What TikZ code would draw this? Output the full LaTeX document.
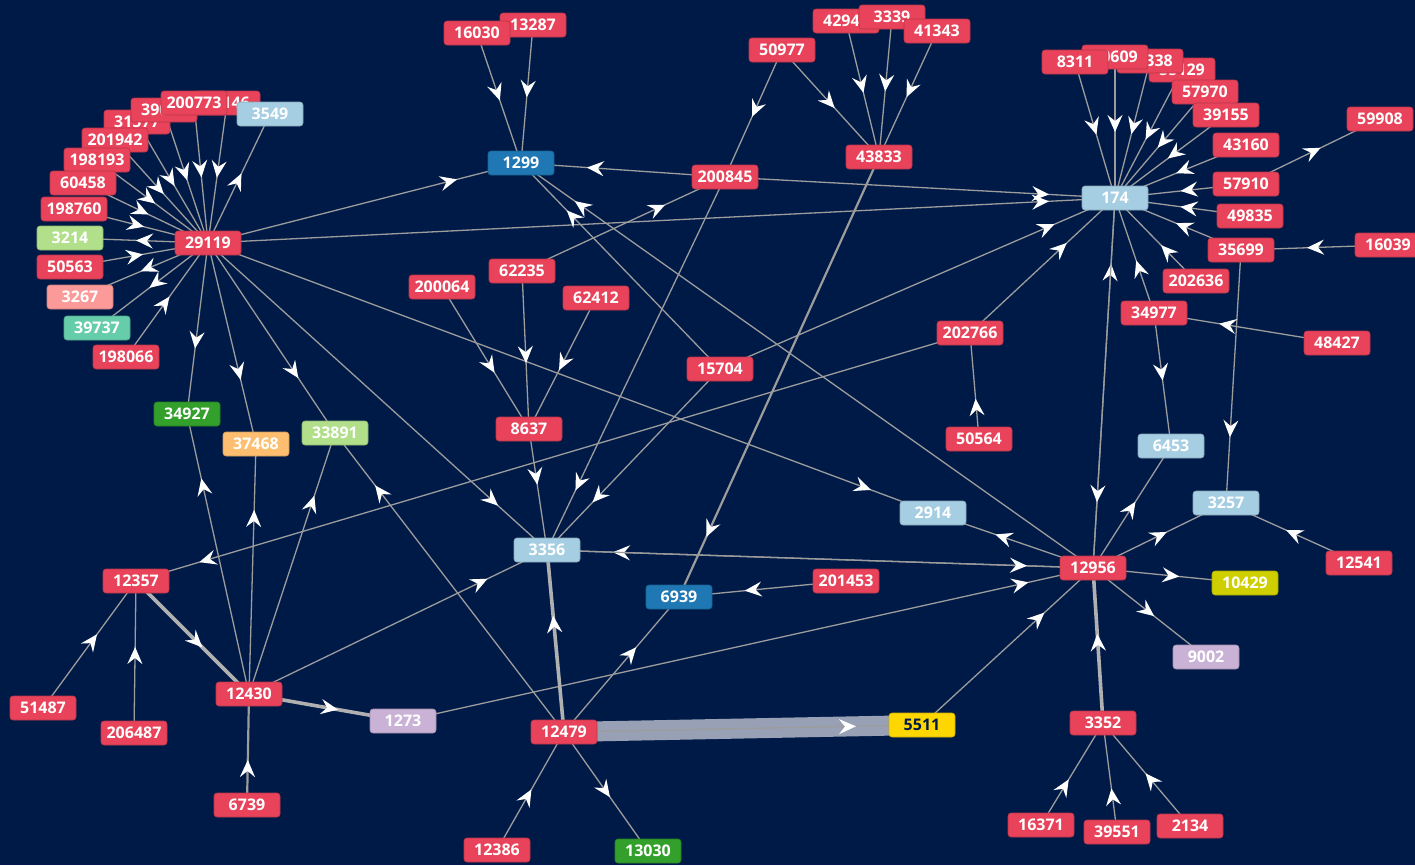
\documentclass[tikz,border=0pt]{standalone}
\usepackage{fontspec}
\setmainfont{Open Sans}
\usetikzlibrary{arrows.meta,decorations.markings}
\definecolor{bgnavy}{HTML}{001A47}
\definecolor{nred}{HTML}{E8435A}
\definecolor{nlblue}{HTML}{A6CEE3}
\definecolor{ndblue}{HTML}{1F78B4}
\definecolor{nlgreen}{HTML}{B2DF8A}
\definecolor{ngreen}{HTML}{33A02C}
\definecolor{npink}{HTML}{FB9A99}
\definecolor{norange}{HTML}{FDBF6F}
\definecolor{nlilac}{HTML}{CAB2D6}
\definecolor{nyellow}{HTML}{FFD700}
\definecolor{nolive}{HTML}{CFCF00}
\definecolor{nteal}{HTML}{66CDAA}
\definecolor{egrey}{HTML}{9C9C9C}
\definecolor{eband}{HTML}{97A0B4}
\pgfdeclarelayer{bg}
\pgfdeclarelayer{edges}
\pgfsetlayers{bg,edges,main}
\tikzset{
  nbox/.style={rectangle, rounded corners=3pt, minimum width=66pt, minimum height=24pt,
    inner sep=0pt, text=white, font=\fontsize{16}{18}\selectfont\bfseries,
    fill=#1, draw=#1!80!black, line width=0.6pt},
  nbox/.default=nred,
  link/.style={draw=egrey, line width=1.3pt,
    decoration={markings, mark=at position -66pt with {\arrow[white]{>}}},
    postaction=decorate},
  heavy/.style={draw=egrey!80!white, line width=3.6pt},
  medium/.style={line width=2.2pt},
}
\begin{document}
\begin{tikzpicture}[x=1pt, y=-1pt, >={Stealth[length=17pt,width=15pt,inset=6pt]}]
\useasboundingbox (0,0) rectangle (1415,865);
\begin{pgfonlayer}{bg}
\fill[bgnavy] (0,0) rectangle (1415,865);
\end{pgfonlayer}
% left fan
\node[nbox] (n25146) at (227,103) {25146};
\node[nbox] (n31577) at (137,122) {31577};
\node[nbox] (n39064) at (164,110) {39064};
\node[nbox] (n200773) at (194,103) {200773};
\node[nbox] (n201942) at (115,140) {201942};
\node[nbox] (n198193) at (97,160) {198193};
\node[nbox] (n60458) at (83,183) {60458};
\node[nbox] (n198760) at (74,209) {198760};
\node[nbox=nlgreen] (n3214) at (70,238) {3214};
\node[nbox] (n50563) at (70,267) {50563};
\node[nbox=npink] (n3267) at (80,297) {3267};
\node[nbox=nteal] (n39737) at (97,328) {39737};
\node[nbox] (n198066) at (126,357) {198066};
\node[nbox=nlblue] (n3549) at (270,114) {3549};
\node[nbox] (n29119) at (208,243) {29119};
% top middle
\node[nbox] (n13287) at (533,25) {13287};
\node[nbox] (n16030) at (477,33) {16030};
\node[nbox=ndblue] (n1299) at (521,163) {1299};
\node[nbox] (n50977) at (782,50) {50977};
\node[nbox] (n42945) at (846,21) {42945};
\node[nbox] (n3339) at (892,17) {3339};
\node[nbox] (n41343) at (937,31) {41343};
\node[nbox] (n43833) at (879,157) {43833};
\node[nbox] (n200845) at (725,177) {200845};
\node[nbox] (n62235) at (522,271) {62235};
\node[nbox] (n200064) at (442,287) {200064};
\node[nbox] (n62412) at (596,298) {62412};
\node[nbox] (n15704) at (720,369) {15704};
\node[nbox] (n8637) at (529,429) {8637};
% right fan
\node[nbox] (n55129) at (1182,70) {55129};
\node[nbox] (n25338) at (1150,61) {25338};
\node[nbox] (n10609) at (1115,57) {10609};
\node[nbox] (n8311) at (1075,62) {8311};
\node[nbox] (n57970) at (1205,92) {57970};
\node[nbox] (n39155) at (1226,115) {39155};
\node[nbox] (n43160) at (1246,145) {43160};
\node[nbox] (n57910) at (1246,184) {57910};
\node[nbox] (n49835) at (1250,216) {49835};
\node[nbox] (n35699) at (1241,250) {35699};
\node[nbox] (n16039) at (1388,245) {16039};
\node[nbox] (n59908) at (1380,119) {59908};
\node[nbox] (n202636) at (1196,281) {202636};
\node[nbox=nlblue] (n174) at (1115,198) {174};
% right middle
\node[nbox] (n202766) at (970,333) {202766};
\node[nbox] (n50564) at (979,439) {50564};
\node[nbox] (n34977) at (1154,313) {34977};
\node[nbox] (n48427) at (1337,343) {48427};
\node[nbox=nlblue] (n6453) at (1171,446) {6453};
\node[nbox=nlblue] (n3257) at (1226,503) {3257};
\node[nbox] (n12541) at (1359,563) {12541};
\node[nbox=nlblue] (n2914) at (933,513) {2914};
\node[nbox] (n12956) at (1093,568) {12956};
\node[nbox=nolive] (n10429) at (1245,583) {10429};
\node[nbox=nlilac] (n9002) at (1206,657) {9002};
\node[nbox] (n3352) at (1103,723) {3352};
\node[nbox] (n16371) at (1041,825) {16371};
\node[nbox] (n39551) at (1117,832) {39551};
\node[nbox] (n2134) at (1190,826) {2134};
% bottom middle
\node[nbox=nlblue] (n3356) at (547,550) {3356};
\node[nbox=ndblue] (n6939) at (679,597) {6939};
\node[nbox] (n201453) at (846,581) {201453};
\node[nbox=nyellow, text=bgnavy] (n5511) at (922,725) {5511};
\node[nbox] (n12479) at (564,732) {12479};
\node[nbox] (n12386) at (497,850) {12386};
\node[nbox=ngreen] (n13030) at (648,851) {13030};
% bottom left
\node[nbox=ngreen] (n34927) at (187,414) {34927};
\node[nbox=norange] (n37468) at (256,444) {37468};
\node[nbox=nlgreen] (n33891) at (335,433) {33891};
\node[nbox] (n12357) at (136,581) {12357};
\node[nbox] (n12430) at (249,694) {12430};
\node[nbox=nlilac] (n1273) at (403,721) {1273};
\node[nbox] (n51487) at (43,708) {51487};
\node[nbox] (n206487) at (134,733) {206487};
\node[nbox] (n6739) at (247,805) {6739};
% connectors
\begin{pgfonlayer}{edges}
\draw[eband, line width=20pt] (n12479.center) -- (n5511.center);
\foreach \a/\b in {29119/3214, 29119/3267, 29119/39737, 29119/3549, 29119/34927,
    29119/37468, 29119/33891, 29119/3356, 29119/2914, 29119/1299, 29119/174,
    25146/29119, 200773/29119, 39064/29119, 31577/29119, 201942/29119,
    198193/29119, 60458/29119, 198760/29119, 50563/29119, 198066/29119,
    16030/1299, 13287/1299, 200845/1299, 15704/1299, 12956/1299,
    50977/200845, 62235/200845, 200845/174, 200845/3356,
    50977/43833, 42945/43833, 3339/43833, 41343/43833,
    200064/8637, 62235/8637, 62412/8637, 8637/3356, 15704/174, 15704/3356,
    8311/174, 10609/174, 25338/174, 55129/174, 57970/174, 39155/174, 43160/174,
    57910/174, 49835/174, 35699/174, 202636/174, 34977/174, 12956/174,
    174/12956, 202766/174, 57910/59908, 16039/35699, 35699/3257, 48427/34977,
    34977/6453, 12541/3257, 50564/202766, 202766/12357,
    12956/3356, 3356/12956, 12956/2914, 12956/6453, 12956/3257, 12956/10429,
    12956/9002, 1273/12956, 5511/12956, 16371/3352, 39551/3352, 2134/3352,
    12479/5511, 12479/6939, 12479/33891, 12386/12479, 12479/13030, 201453/6939,
    12430/34927, 12430/37468, 12430/33891, 12430/3356,
    51487/12357, 206487/12357}
  \draw[link] (n\a.center) -- (n\b.center);
\foreach \a/\b in {3352/12956, 12479/3356, 12430/1273, 12357/12430}
  \draw[link, heavy] (n\a.center) -- (n\b.center);
\foreach \a/\b in {43833/6939, 6739/12430}
  \draw[link, medium] (n\a.center) -- (n\b.center);
\end{pgfonlayer}
\end{tikzpicture}
\end{document}
